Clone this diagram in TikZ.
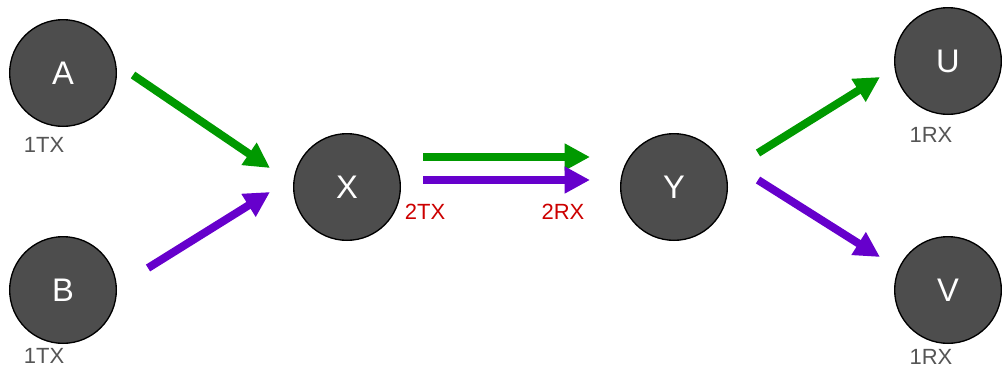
\documentclass[tikz,border=0pt]{standalone}
\usepackage{fontspec}
\setsansfont{Liberation Sans}
\usetikzlibrary{arrows.meta}
\definecolor{nodegray}{HTML}{4D4D4D}
\definecolor{txgreen}{HTML}{009900}
\definecolor{txpurple}{HTML}{6600CC}
\definecolor{portred}{HTML}{CC0000}
\definecolor{countgray}{HTML}{555555}

\begin{document}
\begin{tikzpicture}[x=0.75pt,y=-0.75pt,
  flow/.style={line width=6pt,-{Triangle[length=19pt,width=19pt]}},
  main node/.style={circle,fill=nodegray,draw=black,line width=1pt,minimum size=80pt,inner sep=0pt,text=white,font=\sffamily\fontsize{24.5}{24.5}\selectfont},
  count/.style={inner sep=0pt,text=countgray,font=\sffamily\fontsize{16.5}{17}\selectfont},
  port/.style={count,text=portred}]

  \useasboundingbox (0,0) rectangle (1002,369);

  \node[main node] (A) at (63,73) {A};
  \node[main node] (B) at (63,290) {B};
  \node[main node] (X) at (347,187) {X};
  \node[main node] (Y) at (674,187) {Y};
  \node[main node] (U) at (948,61) {U};
  \node[main node] (V) at (948,290) {V};

  \node[count] (A tx) at (44,145) {1TX};
  \node[count] (B tx) at (44,356) {1TX};
  \node[port] (X tx) at (425,212) {2TX};
  \node[port] (Y rx) at (563,212) {2RX};
  \node[count] (U rx) at (931,135) {1RX};
  \node[count] (V rx) at (931,357) {1RX};

  % free ends of the flows
  \coordinate (A out) at (133,75);
  \coordinate (B out) at (148,268);
  \coordinate (X in a) at (270,168);
  \coordinate (X in b) at (270,192);
  \coordinate (X out a) at (423,157);
  \coordinate (X out b) at (423,180);
  \coordinate (Y in a) at (590,157);
  \coordinate (Y in b) at (590,180);
  \coordinate (Y out a) at (758,153);
  \coordinate (Y out b) at (758,180);
  \coordinate (U in) at (880,77);
  \coordinate (V in) at (880,257);

  \path[flow]
    (A out) edge[txgreen] (X in a)
    (B out) edge[txpurple] (X in b)
    (X out a) edge[txgreen] (Y in a)
    (X out b) edge[txpurple] (Y in b)
    (Y out a) edge[txgreen] (U in)
    (Y out b) edge[txpurple] (V in)
    ;
\end{tikzpicture}
\end{document}
